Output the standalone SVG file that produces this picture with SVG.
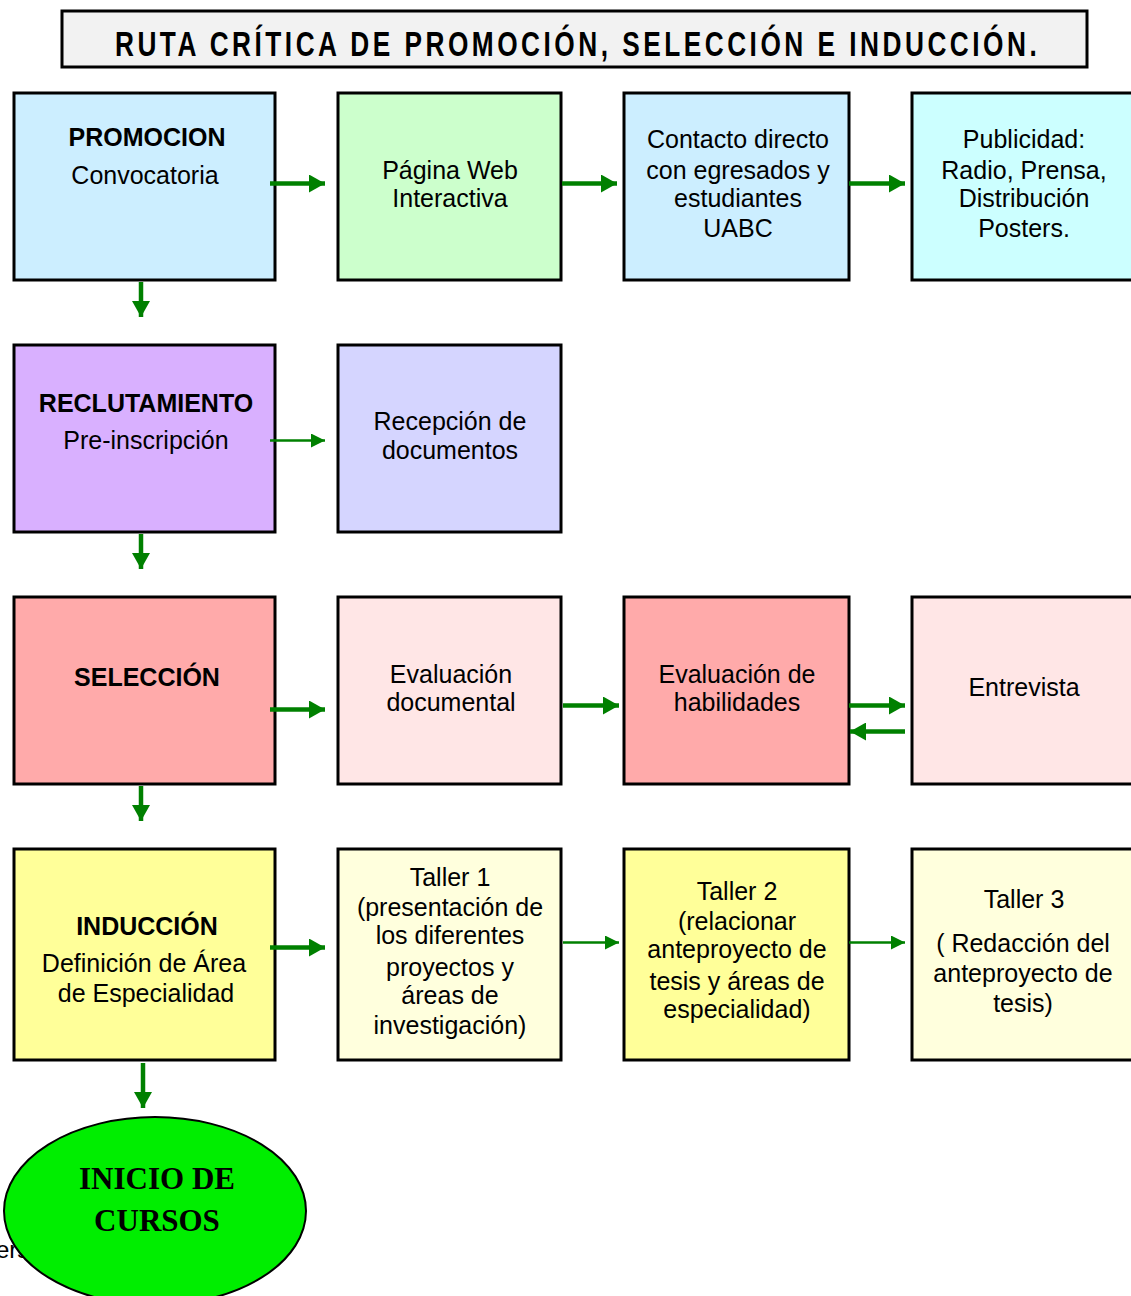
<svg xmlns="http://www.w3.org/2000/svg" width="1131" height="1296" viewBox="0 0 1131 1296">
<style>
.box{stroke:#000;stroke-width:3}
.t{font-family:"Liberation Sans",Arial,sans-serif;font-size:25px;fill:#000;text-anchor:middle}
.b{font-weight:bold}
.ak{stroke:#008000;stroke-width:4.5;fill:none}
.an{stroke:#008000;stroke-width:2.5;fill:none}
</style>
<defs>
<marker id="hk" markerUnits="userSpaceOnUse" markerWidth="16" markerHeight="18" refX="16" refY="9" orient="auto"><polygon points="0,0 16,9 0,18" fill="#008000"/></marker>
<marker id="hn" markerUnits="userSpaceOnUse" markerWidth="14" markerHeight="14" refX="14" refY="7" orient="auto"><polygon points="0,0 14,7 0,14" fill="#008000"/></marker>
</defs>
<rect width="1131" height="1296" fill="#fff"/>
<g id="title">
<rect x="62" y="11" width="1025" height="56" fill="#f2f2f2" stroke="#000" stroke-width="3"/>
<text transform="scale(0.75,1)" x="153.3" y="56" font-family="Liberation Sans,Arial,sans-serif" font-weight="bold" font-size="35" textLength="1229" lengthAdjust="spacing">RUTA CRÍTICA DE PROMOCIÓN, SELECCIÓN E INDUCCIÓN.</text>
</g>
<g id="promocion"><rect class="box" x="14" y="93" width="261" height="187" fill="#cceeff"/><text class="t b" x="147" y="146">PROMOCION</text><text class="t" x="145" y="184">Convocatoria</text></g>
<g id="pagina"><rect class="box" x="338" y="93" width="223" height="187" fill="#ccffcc"/><text class="t" x="450" y="179">Página Web</text><text class="t" x="450" y="207">Interactiva</text></g>
<g id="contacto"><rect class="box" x="624" y="93" width="225" height="187" fill="#cceeff"/><text class="t" x="738" y="148">Contacto directo</text><text class="t" x="738" y="179">con egresados y</text><text class="t" x="738" y="207">estudiantes</text><text class="t" x="738" y="237">UABC</text></g>
<g id="publicidad"><rect class="box" x="912" y="93" width="222" height="187" fill="#ccffff"/><text class="t" x="1024" y="148">Publicidad:</text><text class="t" x="1024" y="179">Radio, Prensa,</text><text class="t" x="1024" y="207">Distribución</text><text class="t" x="1024" y="237">Posters.</text></g>
<g id="reclutamiento"><rect class="box" x="14" y="345" width="261" height="187" fill="#d9b0ff"/><text class="t b" x="146" y="412">RECLUTAMIENTO</text><text class="t" x="146" y="449">Pre-inscripción</text></g>
<g id="recepcion"><rect class="box" x="338" y="345" width="223" height="187" fill="#d5d5ff"/><text class="t" x="450" y="430">Recepción de</text><text class="t" x="450" y="459">documentos</text></g>
<g id="seleccion"><rect class="box" x="14" y="597" width="261" height="187" fill="#ffaaaa"/><text class="t b" x="147" y="686">SELECCIÓN</text></g>
<g id="evaldoc"><rect class="box" x="338" y="597" width="223" height="187" fill="#ffe6e6"/><text class="t" x="451" y="683">Evaluación</text><text class="t" x="451" y="711">documental</text></g>
<g id="evalhab"><rect class="box" x="624" y="597" width="225" height="187" fill="#ffaaaa"/><text class="t" x="737" y="683">Evaluación de</text><text class="t" x="737" y="711">habilidades</text></g>
<g id="entrevista"><rect class="box" x="912" y="597" width="222" height="187" fill="#ffe6e6"/><text class="t" x="1024" y="696">Entrevista</text></g>
<g id="induccion"><rect class="box" x="14" y="849" width="261" height="211" fill="#ffff99"/><text class="t b" x="147" y="935">INDUCCIÓN</text><text class="t" x="144" y="972">Definición de Área</text><text class="t" x="146" y="1002">de Especialidad</text></g>
<g id="taller1"><rect class="box" x="338" y="849" width="223" height="211" fill="#ffffdd"/><text class="t" x="450" y="886">Taller 1</text><text class="t" x="450" y="916">(presentación de</text><text class="t" x="450" y="944">los diferentes</text><text class="t" x="450" y="976">proyectos y</text><text class="t" x="450" y="1004">áreas de</text><text class="t" x="450" y="1034">investigación)</text></g>
<g id="taller2"><rect class="box" x="624" y="849" width="225" height="211" fill="#ffff99"/><text class="t" x="737" y="900">Taller 2</text><text class="t" x="737" y="930">(relacionar</text><text class="t" x="737" y="958">anteproyecto de</text><text class="t" x="737" y="990">tesis y áreas de</text><text class="t" x="737" y="1018">especialidad)</text></g>
<g id="taller3"><rect class="box" x="912" y="849" width="222" height="211" fill="#ffffdd"/><text class="t" x="1024" y="908">Taller 3</text><text class="t" x="1023" y="952">( Redacción del</text><text class="t" x="1023" y="982">anteproyecto de</text><text class="t" x="1023" y="1012">tesis)</text></g>
<text x="-4" y="1258" font-family="Liberation Sans,Arial,sans-serif" font-size="24">ers</text>
<g id="inicio"><ellipse cx="155" cy="1211" rx="151" ry="94" fill="#00ee00" stroke="#000" stroke-width="2"/><text x="157" y="1189" font-family="Liberation Serif,Times New Roman,serif" font-weight="bold" font-size="31" text-anchor="middle">INICIO DE</text><text x="157" y="1231" font-family="Liberation Serif,Times New Roman,serif" font-weight="bold" font-size="31" text-anchor="middle">CURSOS</text></g>
<g id="connectors">
<line class="ak" x1="270" y1="183.5" x2="325" y2="183.5" marker-end="url(#hk)"/>
<line class="ak" x1="562" y1="183.5" x2="617" y2="183.5" marker-end="url(#hk)"/>
<line class="ak" x1="849" y1="183.5" x2="905" y2="183.5" marker-end="url(#hk)"/>
<line class="ak" x1="141" y1="282" x2="141" y2="317" marker-end="url(#hk)"/>
<line class="an" x1="270" y1="440.5" x2="325" y2="440.5" marker-end="url(#hn)"/>
<line class="ak" x1="141" y1="534" x2="141" y2="569" marker-end="url(#hk)"/>
<line class="ak" x1="270" y1="709.5" x2="325" y2="709.5" marker-end="url(#hk)"/>
<line class="ak" x1="563" y1="705.5" x2="619" y2="705.5" marker-end="url(#hk)"/>
<line class="ak" x1="849" y1="705.5" x2="905" y2="705.5" marker-end="url(#hk)"/>
<line class="ak" x1="905" y1="731.5" x2="850" y2="731.5" marker-end="url(#hk)"/>
<line class="ak" x1="141" y1="786" x2="141" y2="821" marker-end="url(#hk)"/>
<line class="ak" x1="270" y1="947.5" x2="325" y2="947.5" marker-end="url(#hk)"/>
<line class="an" x1="563" y1="942.5" x2="619" y2="942.5" marker-end="url(#hn)"/>
<line class="an" x1="849" y1="942.5" x2="905" y2="942.5" marker-end="url(#hn)"/>
<line class="ak" x1="143" y1="1063" x2="143" y2="1108" marker-end="url(#hk)"/>
</g>
</svg>
